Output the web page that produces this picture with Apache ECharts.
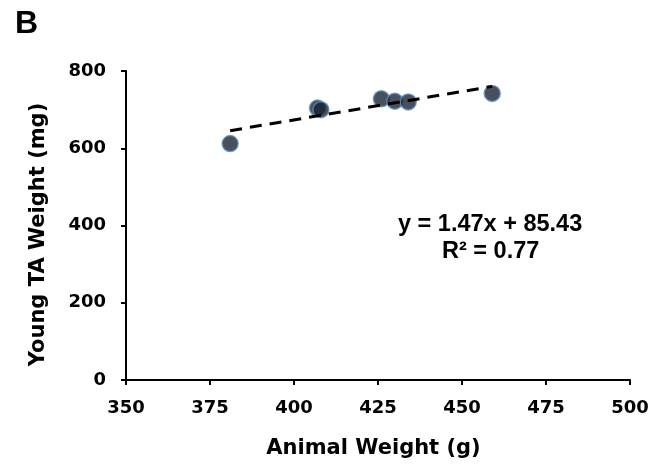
<!DOCTYPE html>
<html>
<head>
<meta charset="utf-8">
<script src="https://cdn.jsdelivr.net/npm/echarts@6/dist/echarts.min.js"></script>
<style>
  html, body { margin: 0; padding: 0; background: #fff; }
  #chart { width: 654px; height: 472px; }
</style>
</head>
<body>
<div id="chart"></div>
<script>
// animal weight (g) vs young TA weight (mg)
var animalWeight = [381, 407, 408, 426, 430, 434, 459];
var taWeight = [612, 704, 700, 728, 722, 720, 742];
var slope = 1.47, intercept = 85.43;
var eqText = 'y = 1.47x + 85.43';
var r2Text = 'R² = 0.77';

var points = [];
for (var i = 0; i < animalWeight.length; i++) {
	points.push([animalWeight[i], taWeight[i]]);
}
// trendline across the x range of the data
var xMin = Math.min.apply(null, animalWeight), xMax = Math.max.apply(null, animalWeight);
var trend = [[xMin, slope * xMin + intercept], [xMax, slope * xMax + intercept]];

var chart = echarts.init(document.getElementById('chart'));
var arial = 'Liberation Sans, Arial, sans-serif';
var wide = 'DejaVu Sans, sans-serif';

chart.setOption({
	animation: false,
	textStyle: { fontFamily: wide },
	title: {
		text: 'B',
		left: 10, top: 3,
		textStyle: { fontSize: 32, fontWeight: 'bold', color: '#000', fontFamily: arial }
	},
	grid: { left: 126, right: 24, top: 71, bottom: 92 },
	xAxis: {
		type: 'value', min: 350, max: 500, interval: 25,
		name: 'Animal Weight (g)', nameLocation: 'middle', nameGap: 58,
		nameTextStyle: { fontSize: 21, fontWeight: 'bold', color: '#000', fontFamily: wide, padding: [0, 9, 0, 0] },
		axisLine: { lineStyle: { color: '#000', width: 2 } },
		axisTick: { length: 5, lineStyle: { color: '#000', width: 2 } },
		axisLabel: { fontSize: 18, fontWeight: 'bold', color: '#000', margin: 19, fontFamily: wide },
		splitLine: { show: false }
	},
	yAxis: {
		type: 'value', min: 0, max: 800, interval: 200,
		name: 'Young TA Weight (mg)', nameLocation: 'middle', nameGap: 77,
		nameTextStyle: { fontSize: 21, fontWeight: 'bold', color: '#000', fontFamily: wide, padding: [0, 18, 0, 0] },
		axisLine: { show: true, lineStyle: { color: '#000', width: 2 } },
		axisTick: { show: true, length: 5, lineStyle: { color: '#000', width: 2 } },
		axisLabel: { fontSize: 18, fontWeight: 'bold', color: '#000', margin: 20, fontFamily: wide },
		splitLine: { show: false }
	},
	graphic: [
		{ type: 'text', left: 398, top: 213, style: { text: eqText, font: 'bold 23.5px ' + arial, fill: '#000' } },
		{ type: 'text', left: 442, top: 240, style: { text: r2Text, font: 'bold 23.5px ' + arial, fill: '#000' } }
	],
	series: [
		{
			type: 'line',
			data: trend,
			symbol: 'none',
			lineStyle: { color: '#000', width: 3, type: [12, 8] },
			z: 3
		},
		{
			type: 'scatter',
			data: points,
			symbolSize: 16,
			itemStyle: { color: '#1b2432', borderColor: '#5b8cc0', borderWidth: 1.5 },
			z: 2
		}
	]
});
</script>
</body>
</html>
